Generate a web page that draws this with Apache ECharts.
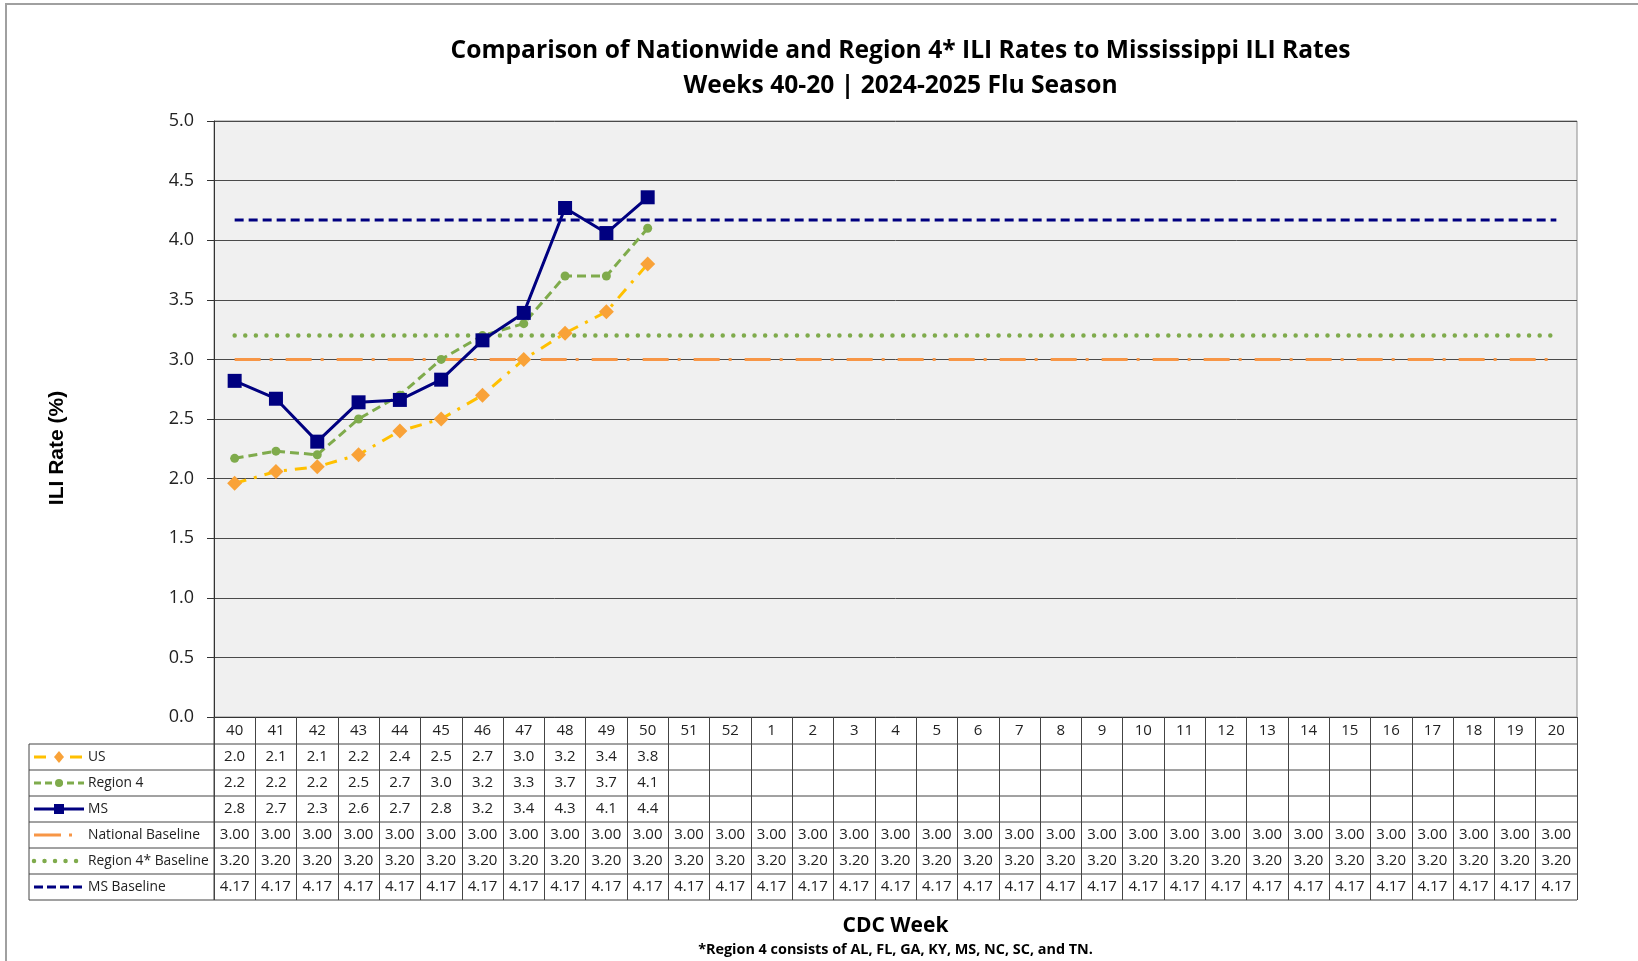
<!DOCTYPE html>
<html>
<head>
<meta charset="utf-8">
<script src="https://cdn.jsdelivr.net/npm/echarts@6/dist/echarts.min.js"></script>
<style>
html,body{margin:0;padding:0;background:#fff;}
#chart{width:1638px;height:961px;}
</style>
</head>
<body>
<div id="chart"></div>
<script>
// ---- data ----
const weeks = ['40','41','42','43','44','45','46','47','48','49','50','51','52','1','2','3','4','5','6','7','8','9','10','11','12','13','14','15','16','17','18','19','20'];
const usValues      = [1.96, 2.06, 2.10, 2.20, 2.40, 2.50, 2.70, 3.00, 3.22, 3.40, 3.80];
const region4Values = [2.17, 2.23, 2.20, 2.50, 2.70, 3.00, 3.20, 3.30, 3.70, 3.70, 4.10];
const msValues      = [2.82, 2.67, 2.31, 2.64, 2.66, 2.83, 3.16, 3.39, 4.27, 4.06, 4.36];
const nationalBaseline = 3.00;
const region4Baseline  = 3.20;
const msBaseline       = 4.17;
const seriesNames = ['US', 'Region 4', 'MS', 'National Baseline', 'Region 4* Baseline', 'MS Baseline'];
const yTicks = { min: 0, max: 5, interval: 0.5 };
const titleLines = ['Comparison of Nationwide and Region 4* ILI Rates to Mississippi ILI Rates', 'Weeks 40-20 | 2024-2025 Flu Season'];
const yAxisTitle = 'ILI Rate (%)';
const xAxisTitle = 'CDC Week';
const footnote = '*Region 4 consists of AL, FL, GA, KY, MS, NC, SC, and TN.';

// ---- layout / style ----
const gridLeft = 214, gridRight = 1577, gridTop = 121, gridBottom = 717;
const tableLeft = 29, rowH = 26, headerBottom = 744, nRows = seriesNames.length;
const tableBottom = headerBottom + rowH * nRows;
const FONT = '"Open Sans", "Noto Sans", sans-serif';
const C = {
  usLine: '#FFC000', usMark: '#F9A238',
  green: '#7FAB4C', navy: '#000080', orange: '#F79646'
};
const baseArr = v => weeks.map(() => v);
const pad = arr => weeks.map((w, i) => i < arr.length ? arr[i] : null);

const fmt1 = v => v == null ? ' ' : (Math.round(v * 10) / 10).toFixed(1);
const fmt2 = v => v == null ? ' ' : v.toFixed(2);

const rowValues = [
  i => fmt1(usValues[i]),
  i => fmt1(region4Values[i]),
  i => fmt1(msValues[i]),
  i => fmt2(nationalBaseline),
  i => fmt2(region4Baseline),
  i => fmt2(msBaseline)
];

const chart = echarts.init(document.getElementById('chart'), null, { renderer: 'canvas' });

// legend key graphics inside the table's first column
const keyStyles = [
  { color: C.usLine, width: 3, dash: [12, 24], symbol: 'diamond', symColor: C.usMark },
  { color: C.green, width: 3, dash: [7, 4], symbol: 'circle', symColor: C.green },
  { color: C.navy, width: 3, dash: null, symbol: 'rect', symColor: C.navy },
  { color: C.orange, width: 3, dash: [27, 8, 3, 20], symbol: null },
  { color: C.green, width: 4.5, dash: [0.01, 10.5], cap: 'round', symbol: null },
  { color: C.navy, width: 3, dash: [9, 4], symbol: null }
];

const graphics = [];
// outer frame
graphics.push({ type: 'rect', shape: { x: 6, y: 4, width: 1700, height: 1000 }, style: { fill: 'none', stroke: '#a0a0a0', lineWidth: 2 }, silent: true });
// table horizontal lines
for (let k = 0; k <= nRows; k++) {
  const y = headerBottom + rowH * k;
  graphics.push({ type: 'line', shape: { x1: tableLeft, y1: y, x2: gridRight, y2: y }, style: { stroke: '#444', lineWidth: 1 }, silent: true });
}
graphics.push({ type: 'line', shape: { x1: tableLeft, y1: headerBottom, x2: tableLeft, y2: tableBottom }, style: { stroke: '#444', lineWidth: 1 }, silent: true });
graphics.push({ type: 'line', shape: { x1: gridLeft, y1: gridBottom, x2: gridLeft, y2: tableBottom }, style: { stroke: '#444', lineWidth: 1 }, silent: true });
// legend keys + names
seriesNames.forEach((name, k) => {
  const cy = headerBottom + rowH * k + rowH / 2;
  const s = keyStyles[k];
  graphics.push({ type: 'line', shape: { x1: 34, y1: cy, x2: 84, y2: cy },
    style: { stroke: s.color, lineWidth: s.width, lineDash: s.dash, lineCap: s.cap || 'butt' }, silent: true });
  if (s.symbol === 'diamond') {
    graphics.push({ type: 'polygon', shape: { points: [[59, cy - 6], [64, cy], [59, cy + 6], [54, cy]] }, style: { fill: s.symColor }, silent: true });
  } else if (s.symbol === 'circle') {
    graphics.push({ type: 'circle', shape: { cx: 59, cy: cy, r: 4 }, style: { fill: s.symColor }, silent: true });
  } else if (s.symbol === 'rect') {
    graphics.push({ type: 'rect', shape: { x: 54, y: cy - 5, width: 10, height: 10 }, style: { fill: s.symColor }, silent: true });
  }
  graphics.push({ type: 'text', x: 88, y: cy, style: { text: name, font: '13.8px ' + FONT, fill: '#222', verticalAlign: 'middle', align: 'left' }, silent: true });
});
// y-axis title
graphics.push({ type: 'text', x: 57, y: 448, rotation: Math.PI / 2,
  style: { text: yAxisTitle, font: 'bold 21px "Liberation Sans", Arial, sans-serif', fill: '#000', align: 'center', verticalAlign: 'middle' }, silent: true });
// x-axis title + footnote
graphics.push({ type: 'text', x: (gridLeft + gridRight) / 2, y: 926,
  style: { text: xAxisTitle, font: 'bold 21px ' + FONT, fill: '#000', align: 'center', verticalAlign: 'middle' }, silent: true });
graphics.push({ type: 'text', x: (gridLeft + gridRight) / 2, y: 950,
  style: { text: footnote, font: 'bold 14.4px ' + FONT, fill: '#000', align: 'center', verticalAlign: 'middle' }, silent: true });

const option = {
  animation: false,
  backgroundColor: '#fff',
  title: {
    text: titleLines.join('\n'),
    left: (gridLeft + gridRight) / 2,
    top: 28,
    textAlign: 'center',
    textStyle: { fontFamily: FONT, fontWeight: 'bold', fontSize: 24.6, color: '#000', lineHeight: 35 }
  },
  grid: {
    left: gridLeft, top: gridTop, width: gridRight - gridLeft, height: gridBottom - gridTop,
    show: true, backgroundColor: '#f0f0f0', borderColor: '#8c8c8c', borderWidth: 1
  },
  xAxis: {
    type: 'category',
    data: weeks,
    boundaryGap: true,
    axisLine: { show: true, lineStyle: { color: '#333', width: 1 } },
    axisTick: { show: true, interval: 0, length: tableBottom - gridBottom, lineStyle: { color: '#444', width: 1 } },
    axisLabel: {
      interval: 0, margin: 1, color: '#222', fontFamily: FONT, fontSize: 15, lineHeight: rowH,
      formatter: (value, i) => [value].concat(rowValues.map(f => f(i))).join('\n')
    },
    splitLine: { show: false }
  },
  yAxis: {
    type: 'value',
    min: yTicks.min, max: yTicks.max, interval: yTicks.interval,
    axisLine: { show: true, lineStyle: { color: '#333', width: 1 } },
    axisTick: { show: true, length: 7, lineStyle: { color: '#333' } },
    axisLabel: { margin: 20, color: '#222', fontFamily: FONT, fontSize: 18, formatter: v => v.toFixed(1) },
    splitLine: { show: true, lineStyle: { color: '#4a4a4a', width: 1 } }
  },
  series: [
    { name: seriesNames[3], type: 'line', data: baseArr(nationalBaseline), showSymbol: false, z: 2,
      lineStyle: { color: C.orange, width: 3, type: [26, 9, 3, 13] } },
    { name: seriesNames[4], type: 'line', data: baseArr(region4Baseline), showSymbol: false, z: 2,
      lineStyle: { color: C.green, width: 4.5, type: [0.01, 10.6], cap: 'round' } },
    { name: seriesNames[5], type: 'line', data: baseArr(msBaseline), showSymbol: false, z: 2,
      lineStyle: { color: C.navy, width: 3, type: [9, 5] } },
    { name: seriesNames[0], type: 'line', data: pad(usValues), symbol: 'diamond', symbolSize: 15, z: 3,
      itemStyle: { color: C.usMark }, lineStyle: { color: C.usLine, width: 3, type: [12, 8, 3, 8] } },
    { name: seriesNames[1], type: 'line', data: pad(region4Values), symbol: 'circle', symbolSize: 9, z: 4,
      itemStyle: { color: C.green }, lineStyle: { color: C.green, width: 3, type: [9, 5] } },
    { name: seriesNames[2], type: 'line', data: pad(msValues), symbol: 'rect', symbolSize: 14, z: 5,
      itemStyle: { color: C.navy }, lineStyle: { color: C.navy, width: 3 } }
  ],
  graphic: graphics
};
chart.setOption(option);
</script>
</body>
</html>
